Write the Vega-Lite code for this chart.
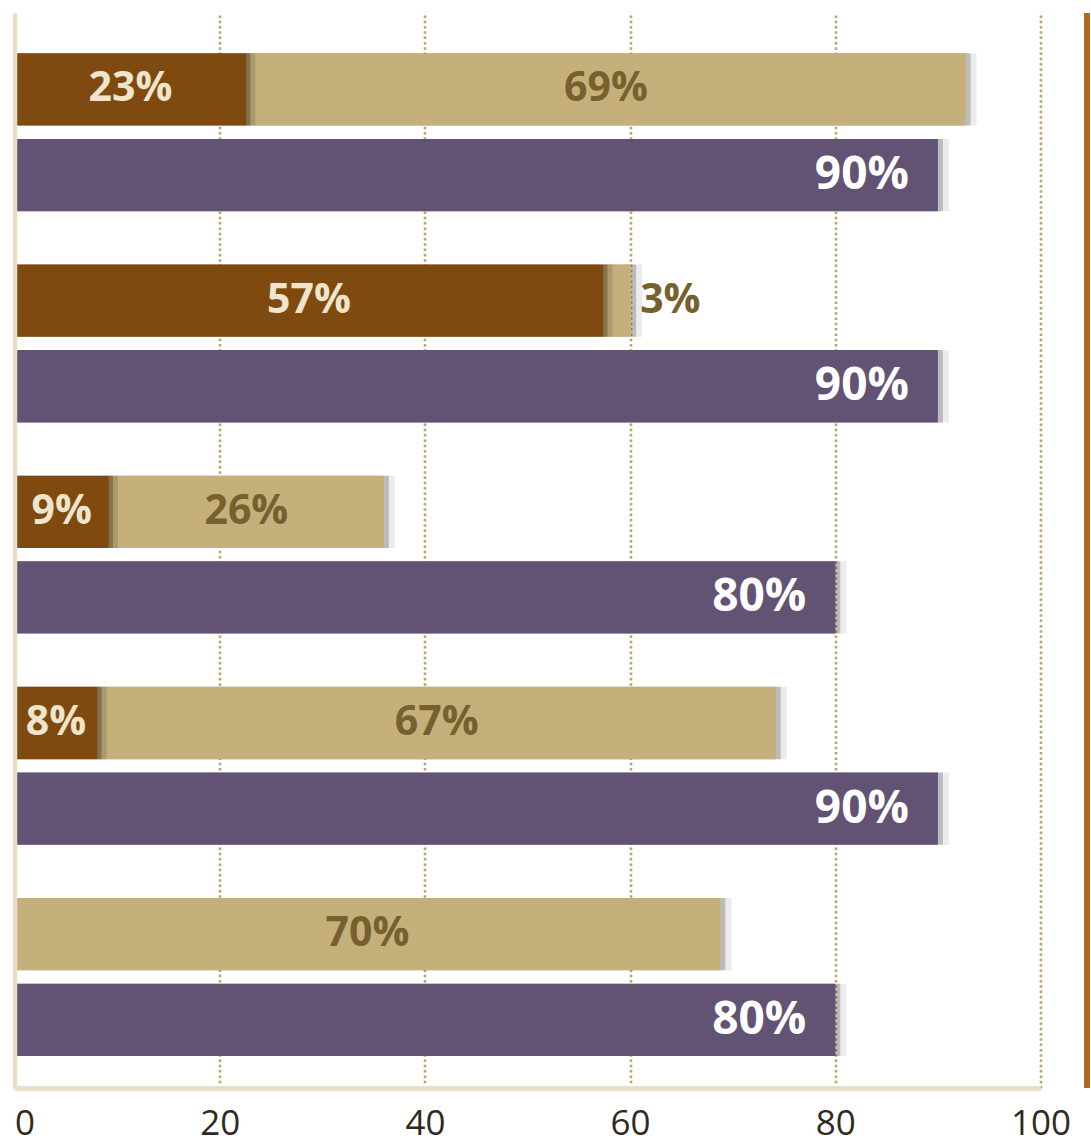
{
  "$schema": "https://vega.github.io/schema/vega-lite/v6.json",
  "width": 1026,
  "height": 1075,
  "autosize": {"type": "none"},
  "padding": {"left": 14.5, "top": 13, "right": 50.5, "bottom": 55},
  "background": "#ffffff",
  "config": {"view": {"stroke": null}},
  "data": {
    "values": [
      {"group": "G1", "bar": "stacked", "seg": "A", "value": 22.6, "label": "23%"},
      {"group": "G1", "bar": "stacked", "seg": "B", "value": 70.1, "label": "69%"},
      {"group": "G1", "bar": "total", "seg": "C", "value": 90, "label": "90%"},
      {"group": "G2", "bar": "stacked", "seg": "A", "value": 57.4, "label": "57%"},
      {"group": "G2", "bar": "stacked", "seg": "B", "value": 2.7, "label": "3%"},
      {"group": "G2", "bar": "total", "seg": "C", "value": 90, "label": "90%"},
      {"group": "G3", "bar": "stacked", "seg": "A", "value": 9.2, "label": "9%"},
      {"group": "G3", "bar": "stacked", "seg": "B", "value": 26.8, "label": "26%"},
      {"group": "G3", "bar": "total", "seg": "C", "value": 80, "label": "80%"},
      {"group": "G4", "bar": "stacked", "seg": "A", "value": 8.1, "label": "8%"},
      {"group": "G4", "bar": "stacked", "seg": "B", "value": 66.1, "label": "67%"},
      {"group": "G4", "bar": "total", "seg": "C", "value": 90, "label": "90%"},
      {"group": "G5", "bar": "stacked", "seg": "B", "value": 68.8, "label": "70%"},
      {"group": "G5", "bar": "total", "seg": "C", "value": 80, "label": "80%"}
    ]
  },
  "transform": [
    {"stack": "value", "groupby": ["group", "bar"], "sort": [{"field": "seg", "order": "ascending"}], "as": ["v0", "v1"]},
    {"calculate": "(datum.v0 + datum.v1) / 2", "as": "mid"}
  ],
  "layer": [
    {
      "transform": [{"filter": "datum.seg != 'A'"}],
      "mark": {"type": "bar", "color": "#000000", "opacity": 0.08, "x2Offset": 11},
      "encoding": {
        "y": {"field": "group", "type": "nominal", "sort": ["G1", "G2", "G3", "G4", "G5"], "scale": {"paddingInner": 0.252, "paddingOuter": 0.171, "align": 0.557}, "axis": {"labels": false, "ticks": false, "title": null, "domain": true, "domainColor": "#e8dfc9", "domainWidth": 4.5, "grid": false, "zindex": 1}},
        "yOffset": {"field": "bar", "type": "nominal", "sort": ["stacked", "total"], "scale": {"paddingInner": 0.156, "paddingOuter": 0}},
        "x": {"field": "v0", "type": "quantitative", "scale": {"domain": [0, 100], "nice": false}, "axis": {"values": [0, 20, 40, 60, 80, 100], "title": null, "grid": true, "gridColor": "#bba466", "gridDash": [2.5, 2.8], "gridWidth": 2.6, "ticks": false, "domain": true, "domainColor": "#e8dfc9", "domainWidth": 5, "labelFont": "Open Sans", "labelFontSize": 35, "labelColor": "#2e2a22", "labelPadding": 18, "labelAlign": {"condition": {"test": "datum.value == 0", "value": "left"}, "value": "center"}, "labelFlush": false, "labelOverlap": false}},
        "x2": {"field": "v1"}
      }
    },
    {
      "transform": [{"filter": "datum.seg != 'A'"}],
      "mark": {"type": "bar", "color": "#000000", "opacity": 0.2, "x2Offset": 5},
      "encoding": {
        "y": {"field": "group", "type": "nominal", "sort": ["G1", "G2", "G3", "G4", "G5"]},
        "yOffset": {"field": "bar", "type": "nominal", "sort": ["stacked", "total"]},
        "x": {"field": "v0", "type": "quantitative"},
        "x2": {"field": "v1"}
      }
    },
    {
      "transform": [{"filter": "datum.seg != 'A'"}],
      "mark": {"type": "bar"},
      "encoding": {
        "y": {"field": "group", "type": "nominal", "sort": ["G1", "G2", "G3", "G4", "G5"]},
        "yOffset": {"field": "bar", "type": "nominal", "sort": ["stacked", "total"]},
        "x": {"field": "v0", "type": "quantitative"},
        "x2": {"field": "v1"},
        "color": {"field": "seg", "type": "nominal", "scale": {"domain": ["A", "B", "C"], "range": ["#7f4a0f", "#c5b07b", "#625273"]}, "legend": null}
      }
    },
    {
      "transform": [{"filter": "datum.seg == 'A'"}],
      "mark": {"type": "bar", "color": "#000000", "opacity": 0.12, "x2Offset": 9},
      "encoding": {
        "y": {"field": "group", "type": "nominal", "sort": ["G1", "G2", "G3", "G4", "G5"]},
        "yOffset": {"field": "bar", "type": "nominal", "sort": ["stacked", "total"]},
        "x": {"field": "v0", "type": "quantitative"},
        "x2": {"field": "v1"}
      }
    },
    {
      "transform": [{"filter": "datum.seg == 'A'"}],
      "mark": {"type": "bar", "color": "#000000", "opacity": 0.25, "x2Offset": 4},
      "encoding": {
        "y": {"field": "group", "type": "nominal", "sort": ["G1", "G2", "G3", "G4", "G5"]},
        "yOffset": {"field": "bar", "type": "nominal", "sort": ["stacked", "total"]},
        "x": {"field": "v0", "type": "quantitative"},
        "x2": {"field": "v1"}
      }
    },
    {
      "transform": [{"filter": "datum.seg == 'A'"}],
      "mark": {"type": "bar"},
      "encoding": {
        "y": {"field": "group", "type": "nominal", "sort": ["G1", "G2", "G3", "G4", "G5"]},
        "yOffset": {"field": "bar", "type": "nominal", "sort": ["stacked", "total"]},
        "x": {"field": "v0", "type": "quantitative"},
        "x2": {"field": "v1"},
        "color": {"field": "seg", "type": "nominal", "legend": null}
      }
    },
    {
      "transform": [{"filter": "datum.seg != 'C' && datum.v1 - datum.v0 >= 5"}],
      "mark": {"type": "text", "font": "Open Sans", "fontWeight": "bold", "fontSize": 41, "baseline": "middle", "align": "center"},
      "encoding": {
        "y": {"field": "group", "type": "nominal", "sort": ["G1", "G2", "G3", "G4", "G5"]},
        "yOffset": {"field": "bar", "type": "nominal", "sort": ["stacked", "total"]},
        "x": {"field": "mid", "type": "quantitative"},
        "text": {"field": "label"},
        "color": {"condition": {"test": "datum.seg == 'A'", "value": "#efe5cc"}, "value": "#76602e"}
      }
    },
    {
      "transform": [{"filter": "datum.seg != 'C' && datum.v1 - datum.v0 < 5"}],
      "mark": {"type": "text", "font": "Open Sans", "fontWeight": "bold", "fontSize": 41, "baseline": "middle", "align": "left", "dx": 9, "color": "#76602e"},
      "encoding": {
        "y": {"field": "group", "type": "nominal", "sort": ["G1", "G2", "G3", "G4", "G5"]},
        "yOffset": {"field": "bar", "type": "nominal", "sort": ["stacked", "total"]},
        "x": {"field": "v1", "type": "quantitative"},
        "text": {"field": "label"}
      }
    },
    {
      "transform": [{"filter": "datum.seg == 'C'"}],
      "mark": {"type": "text", "font": "Open Sans", "fontWeight": "bold", "fontSize": 46, "baseline": "middle", "align": "right", "dx": -29, "color": "#ffffff"},
      "encoding": {
        "y": {"field": "group", "type": "nominal", "sort": ["G1", "G2", "G3", "G4", "G5"]},
        "yOffset": {"field": "bar", "type": "nominal", "sort": ["stacked", "total"]},
        "x": {"field": "v1", "type": "quantitative"},
        "text": {"field": "label"}
      }
    },
    {
      "mark": {"type": "rule", "color": "#b5651d", "strokeWidth": 5},
      "encoding": {
        "x": {"datum": 104.5, "type": "quantitative"}
      }
    }
  ]
}
